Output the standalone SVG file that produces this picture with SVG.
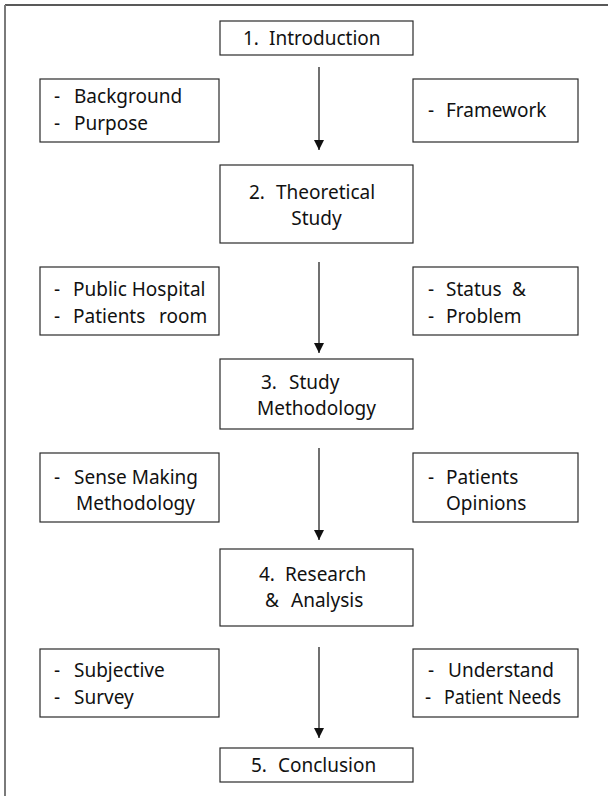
<svg xmlns="http://www.w3.org/2000/svg" width="608" height="796" viewBox="0 0 608 796">
  <style>
    .box { fill: #ffffff; stroke: #2a2a2a; stroke-width: 1.2; }
    .t { font-family: "Noto Sans", "Open Sans", sans-serif; font-size: 19px; fill: #111111; }
    .c { text-anchor: middle; }
    .conn { stroke: #111111; stroke-width: 1.2; fill: none; marker-end: url(#ah); }
  </style>
  <defs>
    <marker id="ah" markerUnits="userSpaceOnUse" markerWidth="12" markerHeight="10" refX="10" refY="5" orient="auto">
      <path d="M0,0 L10,5 L0,10 Z" fill="#111111"/>
    </marker>
  </defs>
  <rect x="0" y="0" width="608" height="796" fill="#ffffff"/>
  <g id="frame">
    <line x1="5" y1="5" x2="608" y2="5" stroke="#222222" stroke-width="1.6"/>
    <line x1="5" y1="5" x2="5" y2="796" stroke="#7a7a7a" stroke-width="2"/>
  </g>
  <g id="connectors">
    <line class="conn" x1="319" y1="67" x2="319" y2="150"/>
    <line class="conn" x1="319" y1="262" x2="319" y2="353"/>
    <line class="conn" x1="319" y1="448" x2="319" y2="540"/>
    <line class="conn" x1="319" y1="647" x2="319" y2="738"/>
  </g>
  <g id="n1">
    <rect class="box" x="220" y="21" width="193" height="34"/>
    <text class="t" y="45"><tspan x="243">1.</tspan><tspan x="269">Introduction</tspan></text>
  </g>
  <g id="n1l">
    <rect class="box" x="40" y="79" width="179" height="63"/>
    <text class="t" y="103"><tspan x="54">-</tspan><tspan x="74">Background</tspan></text>
    <text class="t" y="130"><tspan x="54">-</tspan><tspan x="74">Purpose</tspan></text>
  </g>
  <g id="n1r">
    <rect class="box" x="413" y="79" width="165" height="63"/>
    <text class="t" y="117"><tspan x="428">-</tspan><tspan x="446">Framework</tspan></text>
  </g>
  <g id="n2">
    <rect class="box" x="220" y="165" width="193" height="78"/>
    <text class="t" y="199"><tspan x="249">2.</tspan><tspan x="276">Theoretical</tspan></text>
    <text class="t c" x="316.5" y="225">Study</text>
  </g>
  <g id="n2l">
    <rect class="box" x="40" y="267" width="179" height="68"/>
    <text class="t" y="296"><tspan x="54">-</tspan><tspan x="73">Public Hospital</tspan></text>
    <text class="t" y="323"><tspan x="54">-</tspan><tspan x="73">Patients</tspan><tspan x="159">room</tspan></text>
  </g>
  <g id="n2r">
    <rect class="box" x="413" y="267" width="165" height="68"/>
    <text class="t" y="296"><tspan x="428">-</tspan><tspan x="446">Status</tspan><tspan x="512">&amp;</tspan></text>
    <text class="t" y="323"><tspan x="428">-</tspan><tspan x="446">Problem</tspan></text>
  </g>
  <g id="n3">
    <rect class="box" x="220" y="359" width="193" height="70"/>
    <text class="t" y="389"><tspan x="261">3.</tspan><tspan x="289">Study</tspan></text>
    <text class="t c" x="316.5" y="415">Methodology</text>
  </g>
  <g id="n3l">
    <rect class="box" x="40" y="453" width="179" height="69"/>
    <text class="t" y="484"><tspan x="54">-</tspan><tspan x="74">Sense Making</tspan></text>
    <text class="t" y="510"><tspan x="76">Methodology</tspan></text>
  </g>
  <g id="n3r">
    <rect class="box" x="413" y="453" width="165" height="69"/>
    <text class="t" y="484"><tspan x="428">-</tspan><tspan x="446">Patients</tspan></text>
    <text class="t" y="510"><tspan x="446">Opinions</tspan></text>
  </g>
  <g id="n4">
    <rect class="box" x="220" y="549" width="193" height="77"/>
    <text class="t" y="581"><tspan x="259">4.</tspan><tspan x="285">Research</tspan></text>
    <text class="t" y="607"><tspan x="265">&amp;</tspan><tspan x="291">Analysis</tspan></text>
  </g>
  <g id="n4l">
    <rect class="box" x="40" y="649" width="179" height="68"/>
    <text class="t" y="677"><tspan x="54">-</tspan><tspan x="74">Subjective</tspan></text>
    <text class="t" y="704"><tspan x="54">-</tspan><tspan x="74">Survey</tspan></text>
  </g>
  <g id="n4r">
    <rect class="box" x="413" y="649" width="165" height="68"/>
    <text class="t" y="677"><tspan x="428">-</tspan><tspan x="448">Understand</tspan></text>
    <text class="t" y="704"><tspan x="425">-</tspan><tspan x="444" textLength="117" lengthAdjust="spacingAndGlyphs">Patient Needs</tspan></text>
  </g>
  <g id="n5">
    <rect class="box" x="220" y="748" width="193" height="34"/>
    <text class="t" y="772"><tspan x="251">5.</tspan><tspan x="278">Conclusion</tspan></text>
  </g>
</svg>
